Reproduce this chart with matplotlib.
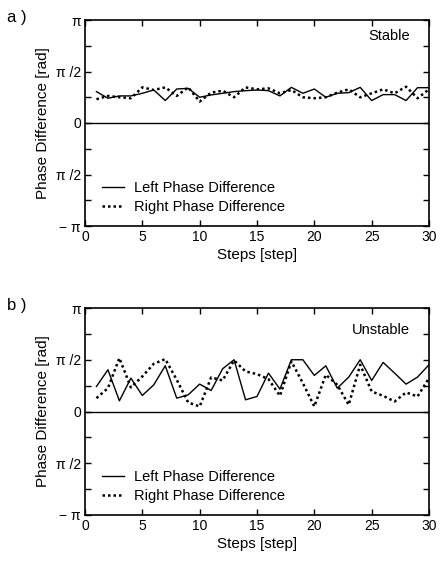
import numpy as np
import matplotlib
matplotlib.use("Agg")
import matplotlib.pyplot as plt

plt.rcParams['font.family'] = ['Liberation Sans', 'DejaVu Sans']

steps = list(range(1, 31))

stable_left = [0.957, 0.755, 0.826, 0.826, 0.906, 1.007, 0.685, 1.037, 1.057, 0.785,
               0.856, 0.906, 0.957, 0.986, 1.007, 0.986, 0.826, 1.087, 0.906, 1.037,
               0.785, 0.906, 0.926, 1.087, 0.685, 0.866, 0.866, 0.685, 1.077, 1.077]
stable_right = [0.725, 0.826, 0.785, 0.755, 1.087, 1.007, 1.087, 0.826, 1.087, 0.654,
                0.926, 0.986, 0.785, 1.087, 1.027, 1.057, 0.906, 1.007, 0.785, 0.755,
                0.785, 0.926, 1.027, 0.785, 0.906, 1.027, 0.906, 1.107, 0.755, 1.027]
unstable_left = [0.760, 1.267, 0.324, 1.013, 0.486, 0.811, 1.388, 0.405, 0.507, 0.831,
                 0.638, 1.297, 1.571, 0.355, 0.456, 1.165, 0.679, 1.571, 1.571, 1.094,
                 1.388, 0.709, 1.044, 1.571, 0.942, 1.490, 1.165, 0.831, 1.044, 1.419]
unstable_right = [0.405, 0.709, 1.621, 0.730, 1.064, 1.449, 1.591, 0.963, 0.274, 0.152,
                  1.034, 0.942, 1.551, 1.216, 1.135, 0.983, 0.476, 1.520, 0.861, 0.152,
                  1.115, 0.811, 0.203, 1.419, 0.608, 0.476, 0.304, 0.578, 0.456, 1.013]

panel_labels = ["a )", "b )"]
panel_titles = ["Stable", "Unstable"]
legend_labels = ["Left Phase Difference", "Right Phase Difference"]
xticks = [0, 5, 10, 15, 20, 25, 30]
ytick_vals = [-np.pi, -3*np.pi/4, -np.pi/2, -np.pi/4, 0, np.pi/4, np.pi/2, 3*np.pi/4, np.pi]
ytick_labels = ["− π", "", "π /2", "", "0", "", "π /2", "", "π"]

W, H = 448, 561
fig = plt.figure(figsize=(W/100, H/100), dpi=100)

rects = [
    [85/W, 1-226/H, (429-85)/W, (226-20)/H],
    [85/W, 1-515/H, (429-85)/W, (515-308)/H],
]
datasets = [(stable_left, stable_right), (unstable_left, unstable_right)]
label_y = [10, 298]
title_y = [0.92, 0.895]

for i in range(2):
    ax = fig.add_axes(rects[i])
    left, right = datasets[i]
    ax.axhline(0, color='black', lw=1.0)
    ax.plot(steps, left, color='black', lw=1.0, label=legend_labels[0])
    ax.plot(steps, right, color='black', lw=1.8, ls=(0, (1, 1.2)), label=legend_labels[1])
    ax.set_xlim(0, 30)
    ax.set_ylim(-np.pi, np.pi)
    ax.set_xticks(xticks)
    ax.set_yticks(ytick_vals)
    ax.set_yticklabels(ytick_labels)
    ax.tick_params(direction='in', top=True, right=True, length=4, width=1, labelsize=10, pad=3)
    for s in ax.spines.values():
        s.set_linewidth(1.2)
    ax.set_xlabel("Steps [step]", fontsize=11, labelpad=3)
    ax.set_ylabel("Phase Difference [rad]", fontsize=11, labelpad=4)
    ax.text(0.945, title_y[i], panel_titles[i], transform=ax.transAxes, ha='right', va='center', fontsize=10.5)
    ax.legend(loc='lower left', frameon=False, fontsize=10.5, handlelength=1.5,
              handletextpad=0.7, borderaxespad=0.3, labelspacing=0.35,
              bbox_to_anchor=(0.02, 0.01))
    fig.text(7/W, 1-label_y[i]/H, panel_labels[i], ha='left', va='top', fontsize=12)

fig.savefig("out.png", dpi=100)
